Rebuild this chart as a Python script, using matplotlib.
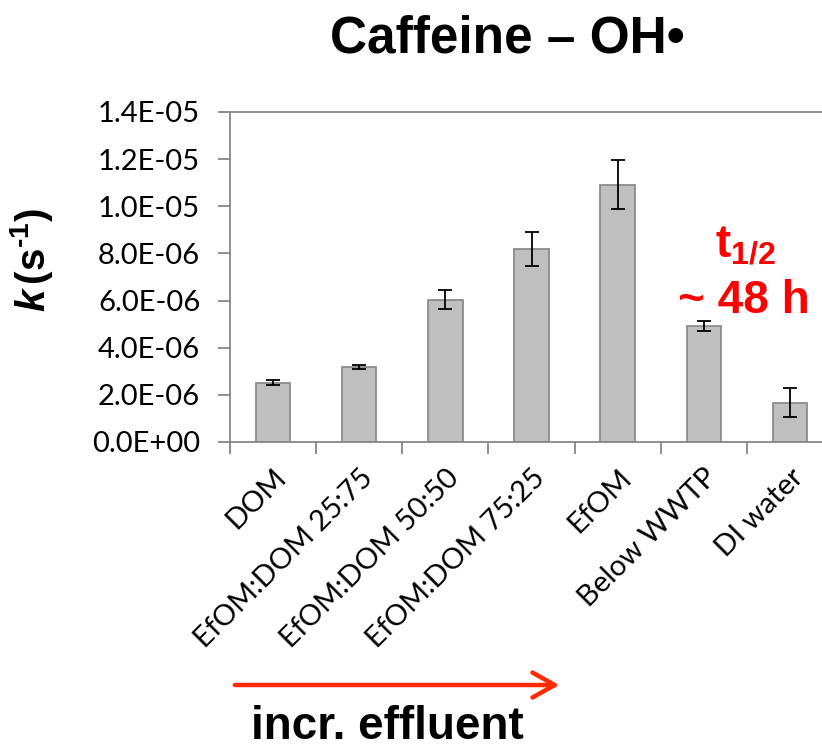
import numpy as np
import matplotlib
matplotlib.use("Agg")
import matplotlib.pyplot as plt
from matplotlib.ticker import FuncFormatter

# rate constants (s^-1) and their standard deviations
samples = ["DOM", "EfOM:DOM 25:75", "EfOM:DOM 50:50", "EfOM:DOM 75:25",
           "EfOM", "Below WWTP", "DI water"]
k_vals = [2.52e-6, 3.18e-6, 6.04e-6, 8.19e-6, 10.92e-6, 4.92e-6, 1.67e-6]
k_err = [0.11e-6, 0.08e-6, 0.39e-6, 0.71e-6, 1.04e-6, 0.20e-6, 0.62e-6]
y_ticks = [0, 2e-6, 4e-6, 6e-6, 8e-6, 10e-6, 12e-6, 14e-6]

plt.rcParams["mathtext.fontset"] = "custom"
plt.rcParams["mathtext.rm"] = "Liberation Sans:bold"
plt.rcParams["mathtext.bf"] = "Liberation Sans:bold"
plt.rcParams["mathtext.it"] = "Liberation Sans:italic"
plt.rcParams["mathtext.bfit"] = "Liberation Sans:bold:italic"

fig = plt.figure(figsize=(8.22, 7.48), dpi=100)
# plot area runs past the right edge of the figure
ax = fig.add_axes([0.2798, 0.4091, 1.0134 - 0.2798, 0.4412])

x = np.arange(len(samples))
ax.bar(x, k_vals, width=0.4, color="#bfbfbf", edgecolor="#8c8c8c", linewidth=1.3,
       yerr=k_err, error_kw=dict(ecolor="black", elinewidth=1.3, capsize=5, capthick=1.3),
       zorder=2)

tick_font = dict(fontfamily="Lato", fontsize=21)

ax.set_xlim(-0.5, len(samples) - 0.5)
ax.set_ylim(0, 1.4e-5)
ax.set_yticks(y_ticks)
ax.yaxis.set_major_formatter(FuncFormatter(lambda v, p: f"{v:.1E}"))
ax.set_xticks(np.arange(len(samples) + 1) - 0.5, minor=False)
ax.set_xticklabels([])
ax.set_xticks(x, minor=True)
ax.set_xticklabels(samples, minor=True, rotation=45, ha="right",
                   rotation_mode="anchor", **tick_font)
ax.tick_params(axis="x", which="minor", length=0, pad=16)
ax.tick_params(axis="x", which="major", length=8.5, width=1.3, color="#868686")
ax.tick_params(axis="y", length=8.5, width=1.3, color="#868686", pad=13)
for lab in ax.get_yticklabels():
    lab.set_fontfamily("Lato")
    lab.set_fontsize(21)

for side in ["left", "bottom", "top", "right"]:
    ax.spines[side].set_color("#868686")
    ax.spines[side].set_linewidth(1.3)

ax.set_ylabel(r"$\mathbfit{k}\,\mathrm{(s^{\text{-}1})}$", fontsize=29)
ax.yaxis.set_label_coords(-0.29, 0.55)

fig.text(0.617, 0.948, "Caffeine – OH•", fontsize=37, fontweight="bold",
         fontfamily="Liberation Sans", ha="center", va="center")

# half-life note
fig.text(0.907, 0.656, r"$\mathbf{t_{1/2}}$", fontsize=33, color="red",
         ha="center", va="baseline")
fig.text(0.905, 0.5816, "~ 48 h", fontsize=33, color="red", fontweight="bold",
         fontfamily="Liberation Sans", ha="center", va="baseline")

# direction of increasing effluent fraction
fig.add_artist(matplotlib.patches.FancyArrowPatch(
    (0.2822, 0.0842), (0.6837, 0.0842), transform=fig.transFigure,
    arrowstyle="->, head_length=0.8, head_width=0.45", mutation_scale=20,
    color="#ff2a00", linewidth=3.2))
fig.text(0.471, 0.012, "incr. effluent", fontsize=33, fontweight="bold",
         fontfamily="Liberation Sans", ha="center", va="baseline")

fig.savefig("out.png", dpi=100)
